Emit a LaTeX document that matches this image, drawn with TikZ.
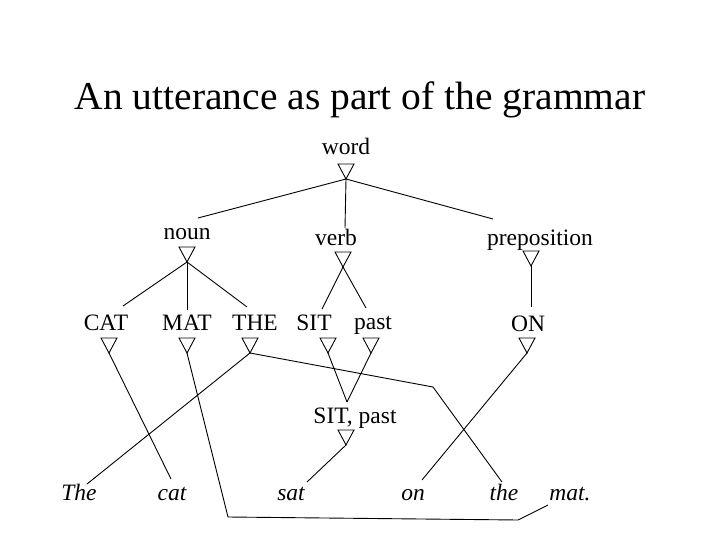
\documentclass[tikz,border=0pt]{standalone}
\usepackage{fontspec}
\setmainfont{Liberation Serif}
\begin{document}
\begin{tikzpicture}[x=1pt,y=-1pt,
  lbl/.style={anchor=base,inner sep=0pt,font=\fontsize{23.5}{28}\selectfont},
  wrd/.style={anchor=base,inner sep=0pt,font=\fontsize{23.5}{28}\selectfont\itshape},
  title/.style={anchor=base,inner sep=0pt,font=\fontsize{39.5}{46}\selectfont},
  link/.style={line width=0.9pt},
  isa/.pic={\draw[line width=0.9pt] (0,0) -- (-8,-15) -- (8,-15) -- cycle;}]
\useasboundingbox (0,0) rectangle (720,540);
\fill[white] (0,0) rectangle (720,540);

\node[title] (ttl) at (360,110) {An utterance as part of the grammar};

% concept labels
\node[lbl] (word) at (346,155) {word};
\node[lbl] (noun) at (187,240) {noun};
\node[lbl] (verb) at (336,245) {verb};
\node[lbl] (prep) at (540,245) {preposition};
\node[lbl] (CAT) at (106,330) {CAT};
\node[lbl] (MAT) at (187,330) {MAT};
\node[lbl] (THE) at (255,330) {THE};
\node[lbl] (SIT) at (314,330) {SIT};
\node[lbl] (past) at (373,329) {past};
\node[lbl] (ON) at (528,331) {ON};
\node[lbl] (sitpast) at (355,423) {SIT, past};

% words
\node[wrd] (wThe) at (79,500) {The};
\node[wrd] (wcat) at (172,500) {cat};
\node[wrd] (wsat) at (291,500) {sat};
\node[wrd] (won) at (413,500) {on};
\node[wrd] (wthe) at (504,500) {the};
\node[wrd] (wmat) at (570,500) {mat.};

% isa triangle apexes
\coordinate (wordA) at (346,179);
\coordinate (nounA) at (187,262);
\coordinate (verbA) at (343,267);
\coordinate (prepA) at (531,266);
\coordinate (CATA) at (109,353);
\coordinate (MATA) at (187,353);
\coordinate (THEA) at (250,353);
\coordinate (SITA) at (328,353);
\coordinate (pastA) at (371,353);
\coordinate (ONA) at (527,353);
\coordinate (spA) at (346,445);
\foreach \a in {wordA,nounA,verbA,prepA,CATA,MATA,THEA,SITA,pastA,ONA,spA}
  \pic at (\a) {isa};

% upper ends of links
\coordinate (nounT) at (198,218);
\coordinate (verbT) at (345,228);
\coordinate (prepT) at (493,219);
\coordinate (CATT) at (123,306);
\coordinate (MATT) at (187,310);
\coordinate (THET) at (247,307);
\coordinate (SITT) at (322,309);
\coordinate (pastT) at (366,308);
\coordinate (ONT) at (531,307);
\coordinate (spT) at (347,402);

% ends at the words
\coordinate (TheE) at (87,484);
\coordinate (catE) at (171,479);
\coordinate (satE) at (307,482);
\coordinate (onE) at (422,480);
\coordinate (theE) at (502,482);
\coordinate (matE) at (548,505);
\coordinate (bendA) at (228,517);
\coordinate (bendB) at (518,520);
\coordinate (bendC) at (433,387);

% isa links
\draw[link] (wordA) -- (nounT);
\draw[link] (wordA) -- (verbT);
\draw[link] (wordA) -- (prepT);
\draw[link] (nounA) -- (CATT);
\draw[link] (nounA) -- (MATT);
\draw[link] (nounA) -- (THET);
\draw[link] (verbA) -- (SITT);
\draw[link] (verbA) -- (pastT);
\draw[link] (prepA) -- (ONT);
\draw[link] (SITA) -- (spT);
\draw[link] (pastA) -- (spT);

% links to words
\draw[link] (CATA) -- (catE);
\draw[link] (THEA) -- (TheE);
\draw[link] (THEA) -- (bendC) -- (theE);
\draw[link] (MATA) -- (bendA) -- (bendB) -- (matE);
\draw[link] (spA) -- (satE);
\draw[link] (ONA) -- (onE);
\end{tikzpicture}
\end{document}
